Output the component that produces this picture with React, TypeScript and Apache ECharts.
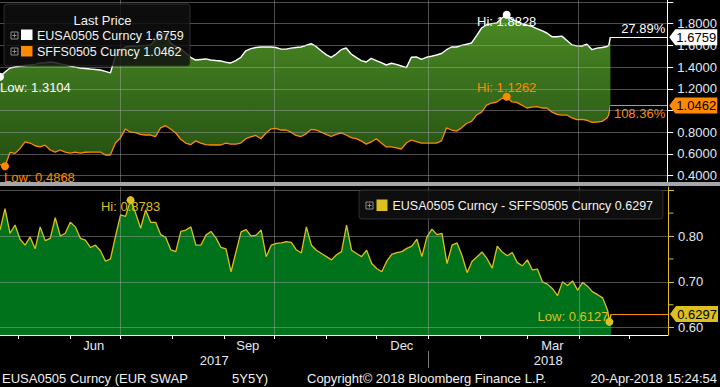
import React, { useEffect, useRef } from "react";
import * as echarts from "echarts";

// ---------- data ----------
const DAY = 86400000;
const START = Date.UTC(2017, 3, 20);
const STEP_DAYS = 3;
const STEP_COUNT = 122;
const EXTRA_DATES = ["2018-04-19", "2018-04-20"];
const X_MIN = START;
const X_MAX = Date.UTC(2018, 4, 24);
const TOP_RANGE = [0.341, 2.018];
const BOTTOM_RANGE = [0.584, 0.907];

const eusa = [
  1.3104, 1.355, 1.392, 1.401, 1.41, 1.415, 1.419, 1.425, 1.438, 1.44,
  1.447, 1.44, 1.429, 1.42, 1.41, 1.4, 1.392, 1.387, 1.382, 1.378,
  1.373, 1.36, 1.346, 1.5, 1.558, 1.585, 1.594, 1.594, 1.598, 1.6,
  1.604, 1.65, 1.7, 1.714, 1.62, 1.59, 1.57, 1.53, 1.49, 1.465,
  1.47, 1.475, 1.465, 1.46, 1.456, 1.445, 1.438, 1.46, 1.49, 1.55,
  1.57, 1.58, 1.585, 1.585, 1.585, 1.58, 1.565, 1.565, 1.575, 1.58,
  1.585, 1.6, 1.615, 1.59, 1.55, 1.515, 1.49, 1.52, 1.56, 1.576,
  1.52, 1.49, 1.46, 1.447, 1.48, 1.46, 1.44, 1.419, 1.435, 1.425,
  1.41, 1.395, 1.49, 1.493, 1.47, 1.49, 1.5, 1.511, 1.525, 1.56,
  1.585, 1.585, 1.6, 1.61, 1.622, 1.69, 1.76, 1.79, 1.8, 1.806,
  1.85, 1.8828, 1.84, 1.82, 1.8, 1.788, 1.775, 1.755, 1.735, 1.714,
  1.68, 1.68, 1.685, 1.645, 1.605, 1.595, 1.594, 1.61, 1.56, 1.575,
  1.58, 1.59, 1.6, 1.6759,
];

const sffs = [
  0.5021, 0.4868, 0.615, 0.605, 0.65, 0.71, 0.7, 0.675, 0.664, 0.68,
  0.636, 0.617, 0.636, 0.617, 0.608, 0.617, 0.608, 0.615, 0.617, 0.617,
  0.617, 0.59, 0.59, 0.7, 0.747, 0.83, 0.8, 0.795, 0.78, 0.774,
  0.774, 0.76, 0.84, 0.86, 0.83, 0.795, 0.735, 0.7, 0.685, 0.72,
  0.7, 0.685, 0.682, 0.682, 0.682, 0.7, 0.69, 0.69, 0.7, 0.74,
  0.756, 0.77, 0.74, 0.79, 0.83, 0.835, 0.82, 0.82, 0.8, 0.77,
  0.76, 0.785, 0.825, 0.82, 0.8, 0.78, 0.76, 0.78, 0.793, 0.774,
  0.75, 0.74, 0.72, 0.69, 0.71, 0.74, 0.7, 0.664, 0.664, 0.655,
  0.645, 0.7, 0.728, 0.712, 0.7, 0.7, 0.7, 0.7, 0.72, 0.839,
  0.82, 0.81, 0.84, 0.88, 0.9, 0.958, 0.985, 1.05, 1.069, 1.078,
  1.11, 1.1262, 1.08, 1.075, 1.05, 1.023, 1.03, 1.035, 1.023, 1.023,
  0.985, 0.965, 0.958, 0.958, 0.931, 0.915, 0.918, 0.91, 0.89, 0.894,
  0.9, 0.93, 0.958, 1.0462,
];

const spread = [
  0.813, 0.86, 0.806, 0.824, 0.793, 0.78, 0.798, 0.772, 0.82, 0.79,
  0.795, 0.84, 0.8, 0.806, 0.83, 0.82, 0.795, 0.791, 0.775, 0.78,
  0.768, 0.745, 0.75, 0.8, 0.846, 0.843, 0.8783, 0.85, 0.817, 0.857,
  0.83, 0.83, 0.803, 0.797, 0.77, 0.766, 0.81, 0.813, 0.82, 0.78,
  0.78, 0.802, 0.81, 0.796, 0.775, 0.772, 0.722, 0.766, 0.809, 0.814,
  0.8, 0.802, 0.813, 0.755, 0.78, 0.784, 0.785, 0.788, 0.786, 0.77,
  0.763, 0.82, 0.78, 0.769, 0.762, 0.755, 0.748, 0.759, 0.766, 0.824,
  0.769, 0.762, 0.755, 0.769, 0.74, 0.729, 0.722, 0.745, 0.76, 0.764,
  0.766, 0.773, 0.778, 0.793, 0.755, 0.798, 0.815, 0.803, 0.806, 0.74,
  0.78, 0.785, 0.757, 0.72, 0.745, 0.755, 0.765, 0.75, 0.73, 0.778,
  0.765, 0.757, 0.764, 0.742, 0.735, 0.748, 0.726, 0.728, 0.7, 0.695,
  0.685, 0.67, 0.7, 0.692, 0.702, 0.682, 0.699, 0.69, 0.678, 0.672,
  0.665, 0.637, 0.6127, 0.6297,
];

const topTicks = [0.4, 0.6, 0.8, 1.0, 1.2, 1.4, 1.6, 1.8, 2.0];
const topLabels = [0.4, 0.6, 0.8, 1.2, 1.4, 1.6, 1.8];
const bottomTicks = [0.6, 0.7, 0.8, 0.9];
const bottomMinorTicks = [0.65, 0.75, 0.85];
const bottomLabels = [0.6, 0.7, 0.8];
const monthTicks = [
  "2017-05-01", "2017-06-01", "2017-07-01", "2017-08-01", "2017-09-01",
  "2017-10-01", "2017-11-01", "2017-12-01", "2018-01-01", "2018-02-01",
  "2018-03-01", "2018-04-01", "2018-05-01",
];
const monthLabelDates = ["2017-06-15", "2017-09-15", "2017-12-16", "2018-03-16"];
const quarterLines = ["2017-07-01", "2017-10-01", "2018-01-01", "2018-04-01"];
const YEAR_BREAK = "2018-01-01";
const MONTHS = ["Jan", "Feb", "Mar", "Apr", "May", "Jun", "Jul", "Aug", "Sep", "Oct", "Nov", "Dec"];

const NAME_A = "EUSA0505 Curncy";
const NAME_B = "SFFS0505 Curncy";

// ---------- style ----------
const FONT = "'Liberation Sans', Arial, sans-serif";
const WHITE = "#ffffff";
const ORANGE = "#ff8a00";
const YELLOW = "#dcc021";
const LABEL = "#e2e9f4";
const GRIDLINE = "rgba(170,170,170,0.45)";
const ARROW = "path://M0 8L6 0L48 0L48 16L6 16Z";

const T = (d: string) => Date.parse(d);
const f4 = (v: number) => v.toFixed(4);

export default function App() {
  const ref = useRef<HTMLDivElement>(null);

  useEffect(() => {
    if (!ref.current) return;
    document.body.style.margin = "0";
    document.body.style.background = "#000";
    const chart = echarts.init(ref.current, null, { renderer: "svg" });

    const dates = Array.from({ length: STEP_COUNT }, (_, i) => START + i * STEP_DAYS * DAY).concat(
      EXTRA_DATES.map(T)
    );
    const n = dates.length;
    const lastDate = dates[n - 1];
    const lastA = eusa[n - 1];
    const lastB = sffs[n - 1];
    const lastS = spread[n - 1];
    const pctA = ((lastA / eusa[0] - 1) * 100).toFixed(2) + "%";
    const pctB = ((lastB / sffs[0] - 1) * 100).toFixed(2) + "%";
    const yb = T(YEAR_BREAK);
    const yearCenters = [(X_MIN + yb) / 2, (yb + X_MAX) / 2];

    const txt = (color: string, size = 13) => ({ color, fontSize: size, fontFamily: FONT });

    const dot = (type: string, color: string, prefix: string, align: string, offset: number[]) => ({
      type,
      symbol: "circle",
      symbolSize: 8,
      itemStyle: { color },
      label: {
        show: true,
        position: "inside",
        align,
        verticalAlign: "middle",
        offset,
        formatter: (p: any) => prefix + f4(Number(p.value)),
        ...txt(color),
      },
    });

    const box = (value: number, color: string) => ({
      coord: [X_MAX, value],
      symbol: ARROW,
      symbolSize: [48, 16],
      symbolOffset: [26, 0],
      itemStyle: { color },
      label: {
        show: true,
        position: "inside",
        offset: [3, 0],
        formatter: () => f4(value),
        ...txt("#000000"),
      },
    });

    const minorTick = (value: number) => ({
      coord: [X_MAX, value],
      symbol: "rect",
      symbolSize: [5, 1],
      symbolOffset: [3, 0],
      itemStyle: { color: YELLOW },
      label: { show: false },
    });

    const vLines = (yRange: number[]) =>
      quarterLines.map((d) => [
        { coord: [T(d), yRange[0]], lineStyle: { color: GRIDLINE, width: 1, type: "solid" } },
        { coord: [T(d), yRange[1]] },
      ]);

    const icon = (x: number, y: number) => [
      { type: "rect", z: 100, shape: { x, y, width: 7, height: 7 }, style: { fill: "none", stroke: "#8c8c8c", lineWidth: 1 } },
      { type: "line", z: 100, shape: { x1: x + 1.5, y1: y + 3.5, x2: x + 5.5, y2: y + 3.5 }, style: { stroke: "#8c8c8c", lineWidth: 1 } },
      { type: "line", z: 100, shape: { x1: x + 3.5, y1: y + 1.5, x2: x + 3.5, y2: y + 5.5 }, style: { stroke: "#8c8c8c", lineWidth: 1 } },
    ];

    const gtext = (text: string, x: number, y: number, fill: string, size: number, align = "left") => ({
      type: "text",
      z: 100,
      x,
      y,
      style: { text, fill, fontSize: size, fontFamily: FONT, align, verticalAlign: "middle" },
    });

    const option: any = {
      animation: false,
      backgroundColor: "#000000",
      grid: [
        { left: 0, top: 0, width: 668, height: 182 },
        { left: 0, top: 187, width: 668, height: 148 },
      ],
      xAxis: [
        { type: "value", gridIndex: 0, min: X_MIN, max: X_MAX, show: false, splitLine: { show: false } },
        {
          type: "value",
          gridIndex: 1,
          min: X_MIN,
          max: X_MAX,
          axisLine: { show: true, lineStyle: { color: WHITE, width: 1 } },
          axisTick: { show: true, customValues: monthTicks.map(T), length: 4, lineStyle: { color: WHITE } },
          axisLabel: {
            show: true,
            customValues: monthLabelDates.map(T),
            formatter: (v: number) => MONTHS[new Date(v).getUTCMonth()],
            margin: 4,
            ...txt(LABEL),
          },
          splitLine: { show: false },
        },
        {
          type: "value",
          gridIndex: 1,
          min: X_MIN,
          max: X_MAX,
          position: "bottom",
          offset: 16,
          axisLine: { show: false },
          axisTick: { show: true, customValues: [yb], length: 17, lineStyle: { color: "#777777" } },
          axisLabel: {
            show: true,
            customValues: yearCenters,
            formatter: (v: number) => String(new Date(v).getUTCFullYear()),
            margin: 3,
            ...txt(LABEL),
          },
          splitLine: { show: false },
        },
      ],
      yAxis: [
        {
          type: "value",
          gridIndex: 0,
          position: "right",
          z: 10,
          min: TOP_RANGE[0],
          max: TOP_RANGE[1],
          axisLine: { show: true, lineStyle: { color: WHITE, width: 1 } },
          axisTick: { show: true, customValues: topTicks, length: 6, lineStyle: { color: WHITE } },
          axisLabel: { show: true, customValues: topLabels, formatter: (v: number) => v.toFixed(4), margin: 10, ...txt(LABEL) },
          splitLine: { show: true, lineStyle: { color: GRIDLINE, width: 1, type: "solid" } },
        },
        {
          type: "value",
          gridIndex: 1,
          position: "right",
          z: 10,
          min: BOTTOM_RANGE[0],
          max: BOTTOM_RANGE[1],
          axisLine: { show: true, lineStyle: { color: YELLOW, width: 1 } },
          axisTick: { show: true, customValues: bottomTicks, length: 6, lineStyle: { color: YELLOW } },
          axisLabel: { show: true, customValues: bottomLabels, formatter: (v: number) => v.toFixed(2), margin: 10, ...txt(LABEL) },
          splitLine: { show: true, lineStyle: { color: GRIDLINE, width: 1, type: "solid" } },
        },
      ],
      series: [
        {
          name: NAME_A,
          type: "line",
          xAxisIndex: 0,
          yAxisIndex: 0,
          z: 2,
          symbol: "none",
          data: dates.map((d, i) => [d, eusa[i]]),
          lineStyle: { color: WHITE, width: 1.4 },
          areaStyle: {
            origin: "start",
            opacity: 1,
            color: new echarts.graphic.LinearGradient(0, 0, 0, 1, [
              { offset: 0, color: "#4c8a25" },
              { offset: 1, color: "#1f4a0f" },
            ]),
          },
          markPoint: {
            silent: true,
            z: 20,
            data: [
              dot("min", WHITE, "Low: ", "left", [0, 11]),
              dot("max", WHITE, "Hi: ", "center", [0, 7]),
              box(lastA, WHITE),
            ],
          },
          markLine: {
            silent: true,
            z: 20,
            symbol: ["none", "none"],
            label: { show: false },
            data: [
              [
                {
                  coord: [lastDate, lastA],
                  lineStyle: { color: WHITE, width: 1, type: "solid" },
                  label: { show: true, position: "insideEndTop", distance: 2, formatter: pctA, ...txt(WHITE) },
                },
                { coord: [X_MAX, lastA] },
              ],
            ],
          },
        },
        {
          name: NAME_B,
          type: "line",
          xAxisIndex: 0,
          yAxisIndex: 0,
          z: 3,
          symbol: "none",
          data: dates.map((d, i) => [d, sffs[i]]),
          lineStyle: { color: ORANGE, width: 1.3 },
          areaStyle: { origin: "start", opacity: 1, color: "#000000" },
          markPoint: {
            silent: true,
            z: 20,
            data: [
              dot("min", ORANGE, "Low: ", "left", [-1, 11]),
              dot("max", ORANGE, "Hi: ", "center", [0, -9]),
              box(lastB, ORANGE),
            ],
          },
          markLine: {
            silent: true,
            z: 4,
            symbol: ["none", "none"],
            label: { show: false },
            data: [
              [
                { coord: [lastDate, TOP_RANGE[0]], lineStyle: { color: "#000000", width: 2, type: "solid" } },
                { coord: [lastDate, lastB] },
              ],
              ...vLines(TOP_RANGE),
              [
                {
                  coord: [lastDate, lastB],
                  lineStyle: { color: ORANGE, width: 1, type: "solid" },
                  label: { show: true, position: "insideEndBottom", distance: 2, formatter: pctB, ...txt(ORANGE) },
                },
                { coord: [X_MAX, lastB] },
              ],
            ],
          },
        },
        {
          name: NAME_A + " - " + NAME_B,
          type: "line",
          xAxisIndex: 1,
          yAxisIndex: 1,
          z: 2,
          symbol: "none",
          data: dates.map((d, i) => [d, spread[i]]),
          lineStyle: { color: YELLOW, width: 1.3 },
          areaStyle: { origin: "start", opacity: 1, color: "#00721c" },
          markPoint: {
            silent: true,
            z: 20,
            data: [
              dot("min", YELLOW, "Low: ", "right", [-1, -5]),
              dot("max", YELLOW, "Hi: ", "center", [0, 6]),
              box(lastS, YELLOW),
              ...bottomMinorTicks.map(minorTick),
            ],
          },
          markLine: {
            silent: true,
            z: 20,
            symbol: ["none", "none"],
            label: { show: false },
            data: [
              ...vLines(BOTTOM_RANGE),
              [
                { coord: [lastDate, lastS], lineStyle: { color: ORANGE, width: 1, type: "solid" } },
                { coord: [X_MAX, lastS] },
              ],
            ],
          },
        },
      ],
      graphic: [
        { type: "rect", z: 100, shape: { x: 0, y: 182, width: 720, height: 4 }, style: { fill: "#a6a6a6" } },
        {
          type: "rect",
          z: 100,
          shape: { x: 4, y: 4, width: 186, height: 62, r: 3 },
          style: { fill: "rgba(16,16,16,0.84)", stroke: "rgba(70,70,70,0.6)", lineWidth: 1 },
        },
        gtext("Last Price", 102.5, 20.5, "#f2f2f2", 13, "center"),
        ...icon(11, 32),
        { type: "rect", z: 100, shape: { x: 21, y: 29.5, width: 11.5, height: 10.5 }, style: { fill: WHITE } },
        gtext(NAME_A + " " + f4(lastA), 37, 35.5, "#f2f2f2", 12.5),
        ...icon(11, 48),
        { type: "rect", z: 100, shape: { x: 21, y: 46, width: 11.5, height: 10.5 }, style: { fill: ORANGE } },
        gtext(NAME_B + " " + f4(lastB), 37, 52, "#f2f2f2", 12.5),
        {
          type: "rect",
          z: 100,
          shape: { x: 359, y: 190, width: 304, height: 29, r: 3 },
          style: { fill: "rgba(16,16,16,0.88)", stroke: "rgba(70,70,70,0.6)", lineWidth: 1 },
        },
        ...icon(366, 202),
        { type: "rect", z: 100, shape: { x: 376.5, y: 199.5, width: 11, height: 11.5 }, style: { fill: YELLOW } },
        gtext(NAME_A + " - " + NAME_B + " " + f4(lastS), 392.5, 205.5, "#f2f2f2", 12.5),
        gtext("EUSA0505 Curncy (EUR SWAP", 2, 378, "#f0f0f0", 13),
        gtext("5Y5Y)", 232, 378, "#f0f0f0", 13),
        gtext("Copyright\u00a9 2018 Bloomberg Finance L.P.", 307, 378, "#f0f0f0", 13),
        gtext("20-Apr-2018 15:24:54", 717, 378, "#f0f0f0", 13, "right"),
      ],
    };

    chart.setOption(option);
    return () => chart.dispose();
  }, []);

  return (
    <div
      ref={ref}
      style={{ position: "fixed", left: 0, top: 0, width: 720, height: 387, background: "#000" }}
    />
  );
}
